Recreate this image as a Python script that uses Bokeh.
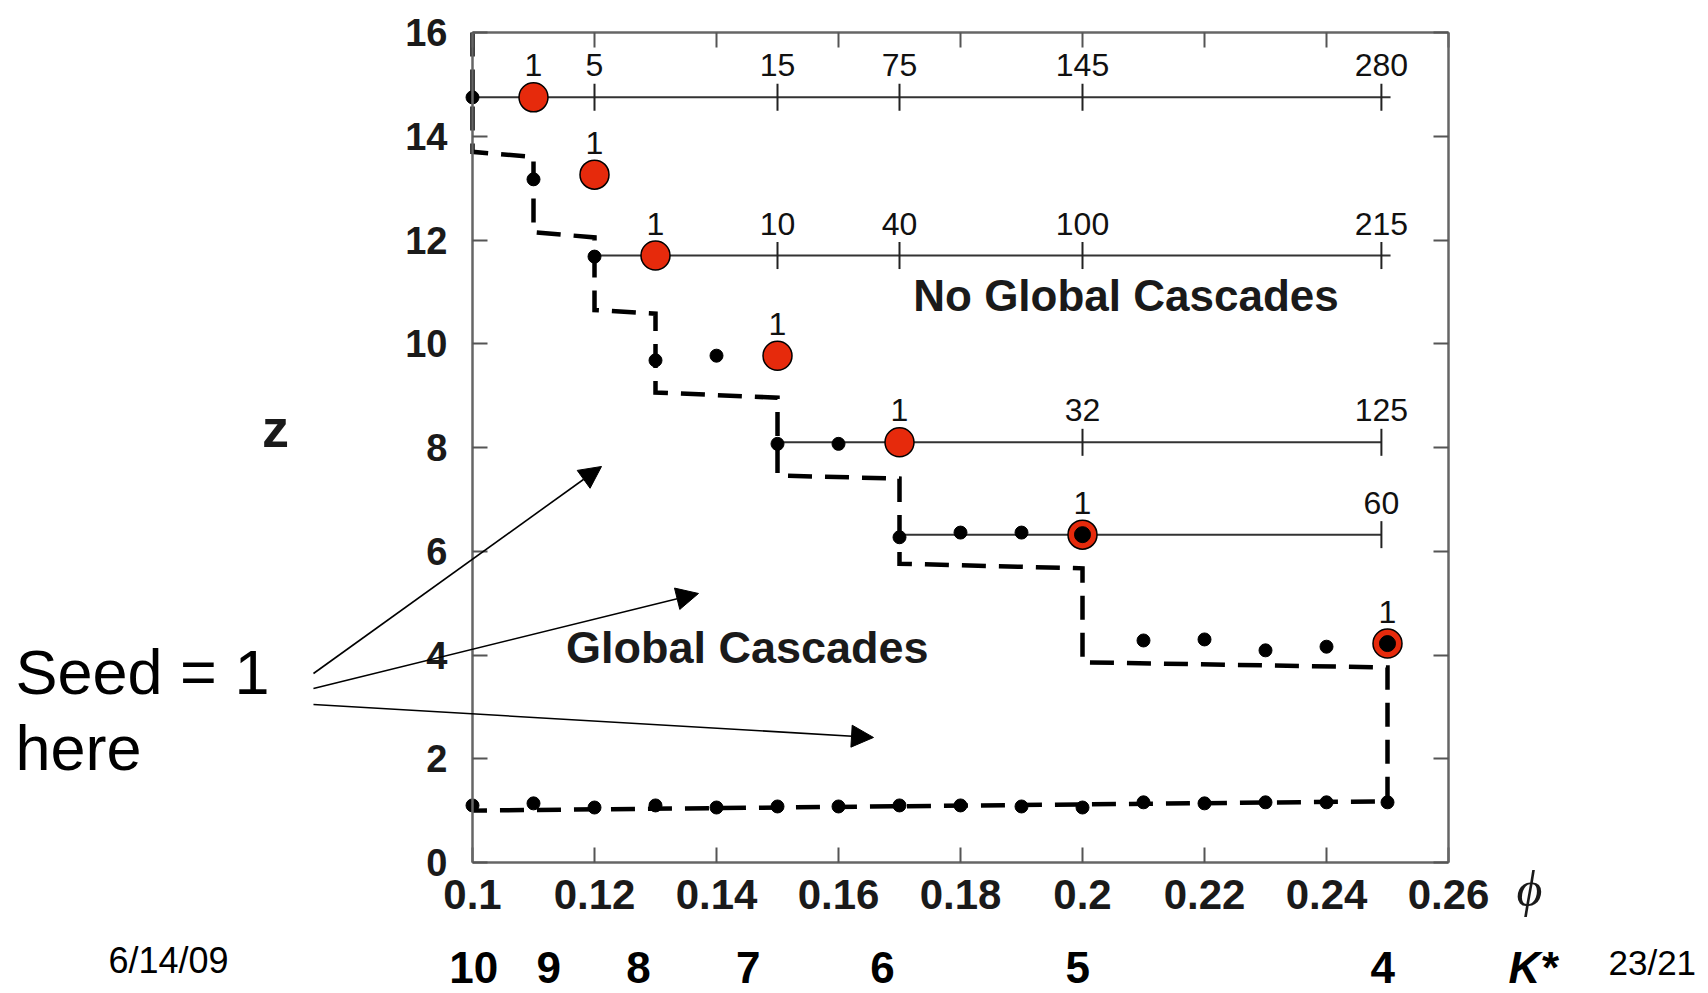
import numpy as np
from bokeh.plotting import figure
from bokeh.models import (Range1d, LinearAxis, FixedTicker, CustomJSTickFormatter,
                          Label, Arrow, NormalHead)
from bokeh.core.properties import value
from bokeh.embed import file_html
from bokeh.resources import INLINE

# ---------------- data ----------------
x_ticks = [0.1, 0.12, 0.14, 0.16, 0.18, 0.2, 0.22, 0.24, 0.26]
y_ticks = [0, 2, 4, 6, 8, 10, 12, 14, 16]

# black markers above the cascade window
dot_phi = [0.10, 0.11, 0.12, 0.13, 0.14, 0.15, 0.16, 0.17, 0.18, 0.19, 0.21, 0.22, 0.23, 0.24]
dot_z = [14.75, 13.17, 11.68, 9.68, 9.77, 8.07, 8.07, 6.27, 6.36, 6.36, 4.28, 4.30, 4.09, 4.16]

# red markers (first point where one seed is enough)
red_phi = [0.11, 0.12, 0.13, 0.15, 0.17, 0.20, 0.25]
red_z = [14.75, 13.26, 11.70, 9.77, 8.10, 6.32, 4.22]
# red markers that also hold a black marker
redc_phi = [0.20, 0.25]
redc_z = [6.32, 4.22]

# lower boundary points
bottom_phi = [0.10, 0.11, 0.12, 0.13, 0.14, 0.15, 0.16, 0.17,
              0.18, 0.19, 0.20, 0.21, 0.22, 0.23, 0.24, 0.25]
bottom_z = [1.10, 1.14, 1.06, 1.10, 1.06, 1.08, 1.08, 1.10,
            1.10, 1.08, 1.06, 1.16, 1.14, 1.16, 1.16, 1.16]

# dashed boundary of the global cascade window
boundary_phi = [0.10, 0.10, 0.11, 0.11, 0.12, 0.12, 0.13, 0.13, 0.15,
                0.15, 0.17, 0.17, 0.20, 0.20, 0.25, 0.25, 0.10]
boundary_z = [16.0, 13.70, 13.60, 12.15, 12.05, 10.65, 10.58, 9.06, 8.96,
              7.46, 7.40, 5.76, 5.67, 3.86, 3.76, 1.18, 1.00]

# seed-count rows
row1_z, row1_span = 14.75, [0.10, 0.2505]
row1_phi = [0.11, 0.12, 0.15, 0.17, 0.20, 0.249]
row1_seeds = ["1", "5", "15", "75", "145", "280"]

row2_z = 13.26
row2_phi = [0.12]
row2_seeds = ["1"]

row3_z, row3_span = 11.70, [0.12, 0.2505]
row3_phi = [0.13, 0.15, 0.17, 0.20, 0.249]
row3_seeds = ["1", "10", "40", "100", "215"]

row4_z = 9.77
row4_phi = [0.15]
row4_seeds = ["1"]

row5_z, row5_span = 8.10, [0.15, 0.249]
row5_phi = [0.17, 0.20, 0.249]
row5_seeds = ["1", "32", "125"]

row6_z, row6_span = 6.32, [0.17, 0.249]
row6_phi = [0.20, 0.249]
row6_seeds = ["1", "60"]

row7_z = 4.22
row7_phi = [0.25]
row7_seeds = ["1"]

# K* = 1/phi secondary scale
kstar_labels = ["10", "9", "8", "7", "6", "5", "4"]
kstar_phi = [0.1002, 0.1125, 0.1272, 0.1452, 0.1672, 0.1992, 0.2492]

# ---------------- figure ----------------
# The frame covers the whole page so that the slide notes and arrows outside
# the axes box are not clipped; the axes are pinned to the data box.
FONT = "Liberation Sans"
PX_X = 6100.0      # pixels per unit of phi
PX_Y = 51.875      # pixels per unit of z
p = figure(width=1708, height=993, output_backend="svg", toolbar_location=None,
           x_range=Range1d(0.1 - 472 / PX_X, 0.26 + 260 / PX_X),
           y_range=Range1d(0 - 131 / PX_Y, 16 + 32 / PX_Y),
           min_border=0)
p.title.visible = False
p.grid.visible = False
p.background_fill_color = "white"
p.border_fill_color = "white"
p.outline_line_color = None

fmt = CustomJSTickFormatter(code="return String(Math.round(tick*100)/100);")
blank = CustomJSTickFormatter(code="return '';")


def style(ax, ticks, loc, bounds, show):
    ax.ticker = FixedTicker(ticks=ticks)
    ax.fixed_location = loc
    ax.bounds = bounds
    ax.major_tick_in = 15
    ax.major_tick_out = 0
    ax.minor_tick_line_color = None
    ax.axis_line_color = "#666666"
    ax.axis_line_width = 2.5
    ax.major_tick_line_color = "#555555"
    ax.major_tick_line_width = 2
    if not show:
        ax.formatter = blank
        ax.major_label_standoff = 0


xb = p.xaxis[0]
style(xb, x_ticks, 0, (0.1, 0.26), True)
xb.formatter = fmt
xb.major_label_text_font = FONT
xb.major_label_text_font_style = "bold"
xb.major_label_text_font_size = "42px"
xb.major_label_text_color = "#1a1a1a"
xb.major_label_standoff = 17

yl = p.yaxis[0]
style(yl, y_ticks, 0.1, (0, 16), True)
yl.major_label_text_font = FONT
yl.major_label_text_font_style = "bold"
yl.major_label_text_font_size = "38px"
yl.major_label_text_color = "#1a1a1a"
yl.major_label_standoff = 25

xt = LinearAxis()
p.add_layout(xt, "above")
style(xt, x_ticks, 16, (0.1, 0.26), False)
yr = LinearAxis()
p.add_layout(yr, "right")
style(yr, y_ticks, 0.26, (0, 16), False)

# dashed boundary
p.line(boundary_phi, boundary_z, line_color="black", line_width=4.5,
       line_dash="24 13", line_join="miter")

# row lines with ticks and seed labels
rows = [
    (row1_z, row1_span, row1_phi, row1_seeds),
    (row2_z, None, row2_phi, row2_seeds),
    (row3_z, row3_span, row3_phi, row3_seeds),
    (row4_z, None, row4_phi, row4_seeds),
    (row5_z, row5_span, row5_phi, row5_seeds),
    (row6_z, row6_span, row6_phi, row6_seeds),
    (row7_z, None, row7_phi, row7_seeds),
]
for z, span, phis, seeds in rows:
    if span is not None:
        p.line(span, [z, z], line_color="#333333", line_width=2)
        p.scatter(phis[1:], [z] * (len(phis) - 1), marker="dash", size=27,
                  angle=np.pi / 2, line_color="#222222", line_width=2)
    p.text(phis, [z] * len(phis), text=seeds, text_font=value(FONT),
           text_font_size="32px", text_align="center",
           text_baseline="middle", y_offset=-32, text_color="#111111")

# points
p.scatter(bottom_phi, bottom_z, size=13, fill_color="black", line_color="black")
p.scatter(dot_phi, dot_z, size=13, fill_color="black", line_color="black")
p.scatter(red_phi, red_z, size=29, fill_color="#E62A0C", line_color="black",
          line_width=1.5)
p.scatter(redc_phi, redc_z, size=16, fill_color="black", line_color="black")

# K* row under the phi axis
p.text(kstar_phi, [-2.03] * len(kstar_phi), text=kstar_labels,
       text_font=value(FONT), text_font_style="bold", text_font_size="44px",
       text_align="center", text_baseline="middle", text_color="black")


def label(x, y, text, size, style="normal", align="left", font=FONT, color="black"):
    p.add_layout(Label(x=x, y=y, text=text, text_font=font, text_font_style=style,
                       text_font_size=size, text_align=align,
                       text_baseline="middle", text_color=color))


# region texts
label(0.20713, 10.93, "No Global Cascades", "44px", "bold", "center", color="#1a1a1a")
label(0.14607, 4.135, "Global  Cascades", "45px", "bold", "center", color="#1a1a1a")

# axis titles
label(0.0677, 8.37, "z", "54px", "bold", "center", color="#1a1a1a")
label(0.27328, -0.52, "\u03d5", "50px", "italic", "center", font="Liberation Serif",
      color="#1a1a1a")
label(0.26984, -2.03, "K*", "44px", "bold italic", "left")

# slide texts
label(0.02508, 3.672, "Seed = 1", "63px")
label(0.02508, 2.207, "here", "63px")
label(0.04033, -1.889, "6/14/09", "36px")
label(0.28623, -1.92, "23/21", "35px")

# arrows from the "Seed = 1 here" note
arrow_tails = [(0.07393, 3.643), (0.07393, 3.354), (0.07393, 3.046)]
arrow_heads = [(0.12115, 7.634), (0.13705, 5.186), (0.16574, 2.410)]
for (x0, y0), (x1, y1) in zip(arrow_tails, arrow_heads):
    p.add_layout(Arrow(x_start=x0, y_start=y0, x_end=x1, y_end=y1,
                       line_color="black", line_width=1.6,
                       end=NormalHead(size=22, fill_color="black",
                                      line_color="black", line_width=1)))

open("out.html", "w").write(file_html(p, INLINE))
